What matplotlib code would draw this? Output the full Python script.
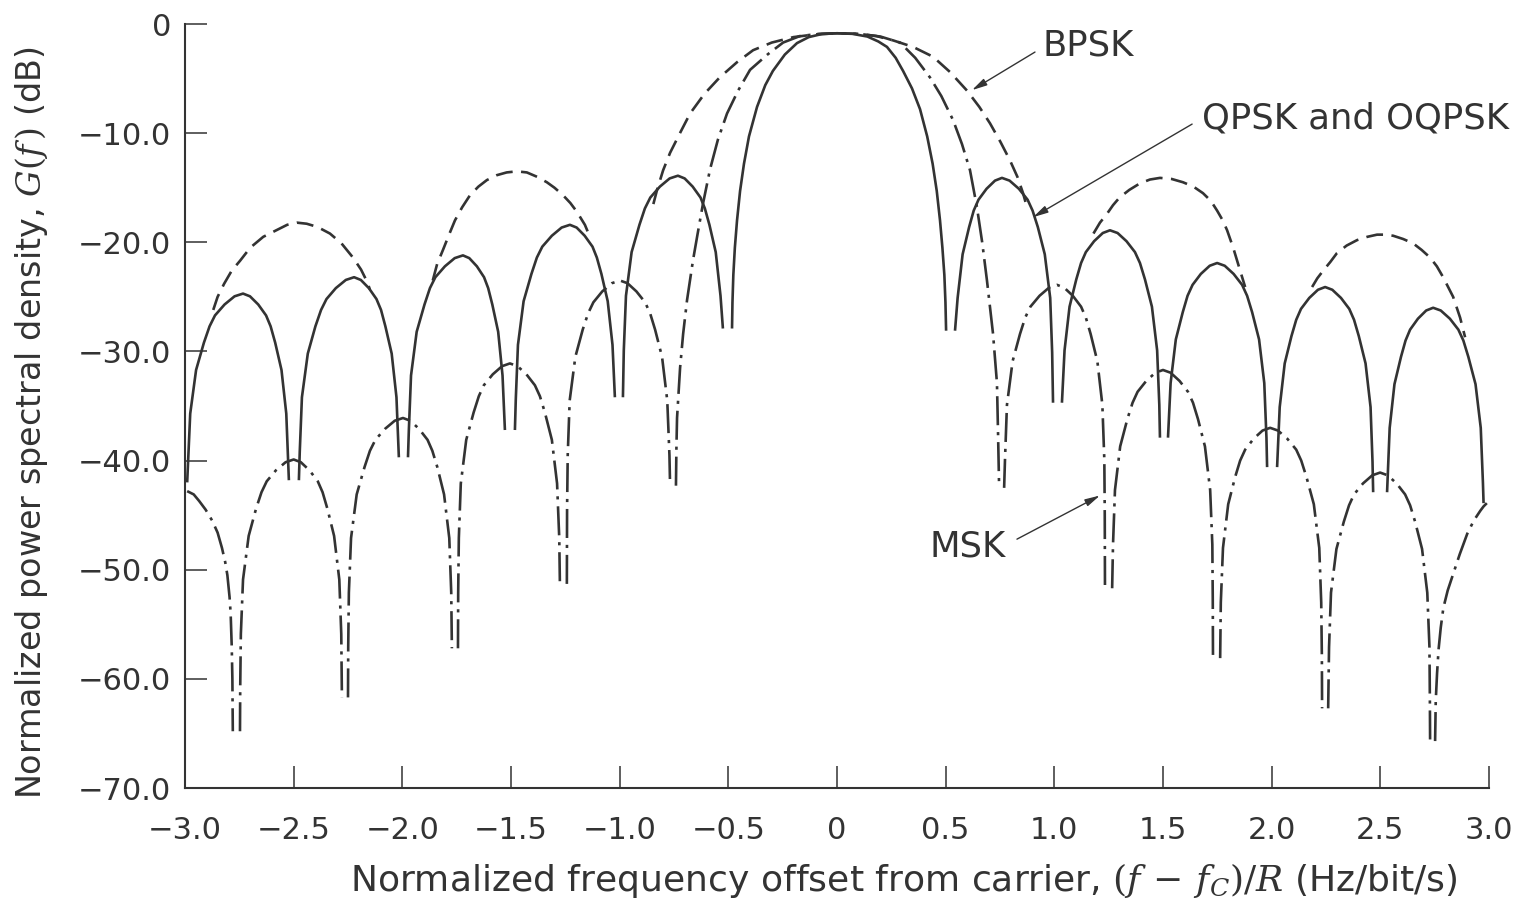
import matplotlib
matplotlib.use("Agg")
import matplotlib.pyplot as plt

plt.rcParams['font.family'] = ['DejaVu Sans']
plt.rcParams['mathtext.fontset'] = 'dejavuserif'

INK = '#333333'

# ---------------- data ----------------
# QPSK / OQPSK (solid), one list per lobe
qpsk_x = [
    [-2.99, -2.976, -2.949, -2.913, -2.887, -2.862, -2.818, -2.772, -2.733, -2.701, -2.663, -2.627, -2.606, -2.585, -2.556, -2.534, -2.522],
    [-2.476, -2.472, -2.462, -2.435, -2.400, -2.374, -2.349, -2.306, -2.260, -2.222, -2.191, -2.154, -2.119, -2.098, -2.078, -2.049, -2.027, -2.016],
    [-1.974, -1.970, -1.960, -1.934, -1.898, -1.873, -1.848, -1.804, -1.759, -1.721, -1.692, -1.657, -1.624, -1.605, -1.586, -1.559, -1.539, -1.528],
    [-1.482, -1.478, -1.468, -1.442, -1.406, -1.381, -1.356, -1.312, -1.267, -1.229, -1.198, -1.161, -1.125, -1.105, -1.084, -1.055, -1.033, -1.022],
    [-0.985, -0.981, -0.971, -0.945, -0.909, -0.884, -0.859, -0.815, -0.770, -0.732, -0.701, -0.664, -0.628, -0.608, -0.587, -0.558, -0.536, -0.525],
    [-0.483, -0.481, -0.477, -0.470, -0.460, -0.446, -0.428, -0.405, -0.368, -0.33, -0.295, -0.24, -0.184, -0.13, -0.07, 0.0, 0.07, 0.14, 0.19, 0.23, 0.27, 0.304, 0.345, 0.382, 0.415, 0.44, 0.459, 0.474, 0.485, 0.494, 0.499, 0.502],
    [0.543, 0.555, 0.578, 0.608, 0.629, 0.651, 0.688, 0.727, 0.759, 0.794, 0.837, 0.877, 0.900, 0.924, 0.956, 0.981, 0.990, 0.994],
    [1.035, 1.047, 1.070, 1.101, 1.123, 1.145, 1.183, 1.223, 1.256, 1.291, 1.332, 1.371, 1.394, 1.417, 1.449, 1.473, 1.483, 1.486],
    [1.523, 1.535, 1.559, 1.591, 1.613, 1.636, 1.674, 1.715, 1.749, 1.784, 1.825, 1.864, 1.887, 1.910, 1.942, 1.966, 1.976, 1.979],
    [2.025, 2.037, 2.060, 2.091, 2.113, 2.135, 2.173, 2.213, 2.246, 2.279, 2.319, 2.357, 2.379, 2.401, 2.432, 2.455, 2.464, 2.467],
    [2.531, 2.543, 2.565, 2.595, 2.616, 2.637, 2.673, 2.711, 2.743, 2.778, 2.820, 2.859, 2.882, 2.905, 2.938, 2.962, 2.972, 2.975],
]
qpsk_y = [
    [-42.0, -35.7, -31.7, -29.2, -27.7, -26.7, -25.7, -24.95, -24.7, -24.95, -25.7, -26.7, -27.7, -29.2, -31.7, -35.7, -41.8],
    [-41.8, -39.2, -34.2, -30.2, -27.7, -26.2, -25.2, -24.2, -23.45, -23.2, -23.45, -24.2, -25.2, -26.2, -27.7, -30.2, -34.2, -39.7],
    [-39.7, -37.2, -32.2, -28.2, -25.7, -24.2, -23.2, -22.2, -21.45, -21.2, -21.45, -22.2, -23.2, -24.2, -25.7, -28.2, -32.2, -37.2],
    [-37.2, -34.4, -29.4, -25.4, -22.9, -21.4, -20.4, -19.4, -18.65, -18.4, -18.65, -19.4, -20.4, -21.4, -22.9, -25.4, -29.4, -34.2],
    [-34.2, -29.9, -24.9, -20.9, -18.4, -16.9, -15.9, -14.9, -14.15, -13.9, -14.15, -14.9, -15.9, -16.9, -18.4, -20.9, -24.9, -27.9],
    [-27.9, -25.5, -23.0, -20.5, -18.0, -15.3, -12.8, -10.3, -7.6, -5.6, -4.3, -2.8, -1.75, -1.2, -0.92, -0.85, -0.9, -1.15, -1.6, -2.1, -3.1, -4.3, -5.9, -7.8, -10.3, -12.8, -15.3, -18.0, -20.5, -23.0, -25.5, -28.1],
    [-28.1, -25.1, -21.1, -18.6, -17.1, -16.1, -15.1, -14.35, -14.1, -14.35, -15.1, -16.1, -17.1, -18.6, -21.1, -25.1, -30.1, -34.7],
    [-34.7, -29.9, -25.9, -23.4, -21.9, -20.9, -19.9, -19.15, -18.9, -19.15, -19.9, -20.9, -21.9, -23.4, -25.9, -29.9, -34.9, -37.9],
    [-37.9, -32.9, -28.9, -26.4, -24.9, -23.9, -22.9, -22.15, -21.9, -22.15, -22.9, -23.9, -24.9, -26.4, -28.9, -32.9, -37.9, -40.6],
    [-40.6, -35.1, -31.1, -28.6, -27.1, -26.1, -25.1, -24.35, -24.1, -24.35, -25.1, -26.1, -27.1, -28.6, -31.1, -35.1, -40.1, -42.9],
    [-42.9, -37.0, -33.0, -30.5, -29.0, -28.0, -27.0, -26.25, -26.0, -26.25, -27.0, -28.0, -29.0, -30.5, -33.0, -37.0, -42.0, -43.9],
]

# MSK (dash-dot)
msk_x = [
    [-2.99, -2.96, -2.935, -2.905, -2.875, -2.85, -2.83, -2.815, -2.805, -2.795, -2.79, -2.785, -2.782, -2.78],
    [-2.747, -2.746, -2.743, -2.733, -2.707, -2.673, -2.648, -2.624, -2.582, -2.537, -2.50, -2.467, -2.427, -2.389, -2.367, -2.345, -2.314, -2.29, -2.281, -2.278],
    [-2.25, -2.249, -2.246, -2.236, -2.210, -2.174, -2.149, -2.124, -2.080, -2.035, -1.997, -1.963, -1.923, -1.884, -1.862, -1.839, -1.808, -1.784, -1.775, -1.772],
    [-1.744, -1.743, -1.740, -1.731, -1.706, -1.672, -1.648, -1.625, -1.584, -1.541, -1.505, -1.470, -1.429, -1.390, -1.367, -1.344, -1.312, -1.288, -1.278, -1.275],
    [-1.243, -1.242, -1.239, -1.230, -1.204, -1.170, -1.145, -1.121, -1.080, -1.036, -0.999, -0.964, -0.923, -0.883, -0.860, -0.837, -0.805, -0.781, -0.771, -0.768],
    [-0.741, -0.739, -0.736, -0.722, -0.708, -0.69, -0.663, -0.642, -0.617, -0.584, -0.548, -0.506, -0.455, -0.40, -0.32, -0.248, -0.17, -0.08, 0.0, 0.1, 0.2, 0.29, 0.36, 0.428, 0.48, 0.534, 0.575, 0.612, 0.644, 0.668, 0.69, 0.718, 0.736, 0.741, 0.746],
    [0.769, 0.773, 0.782, 0.808, 0.842, 0.866, 0.890, 0.932, 0.976, 1.012, 1.045, 1.085, 1.123, 1.145, 1.167, 1.198, 1.221, 1.230, 1.232, 1.233],
    [1.266, 1.270, 1.279, 1.303, 1.336, 1.360, 1.383, 1.423, 1.465, 1.50, 1.535, 1.576, 1.615, 1.638, 1.661, 1.693, 1.717, 1.727, 1.729, 1.730],
    [1.763, 1.766, 1.776, 1.800, 1.832, 1.855, 1.878, 1.917, 1.958, 1.993, 2.029, 2.072, 2.113, 2.136, 2.160, 2.194, 2.219, 2.228, 2.231, 2.232],
    [2.26, 2.264, 2.273, 2.298, 2.332, 2.356, 2.379, 2.420, 2.463, 2.499, 2.534, 2.575, 2.614, 2.637, 2.660, 2.692, 2.716, 2.726, 2.728, 2.729],
    [2.752, 2.755, 2.761, 2.768, 2.778, 2.79, 2.81, 2.835, 2.865, 2.90, 2.93, 2.96, 2.975, 2.99],
]
msk_y = [
    [-42.8, -43.1, -43.7, -44.5, -45.5, -46.6, -48.0, -49.3, -50.5, -52.5, -54.0, -57.0, -60.0, -64.8],
    [-64.8, -60.9, -55.9, -50.9, -46.9, -44.4, -42.9, -41.9, -40.9, -40.15, -39.9, -40.15, -40.9, -41.9, -42.9, -44.4, -46.9, -50.9, -55.9, -61.7],
    [-61.7, -57.1, -52.1, -47.1, -43.1, -40.6, -39.1, -38.1, -37.1, -36.35, -36.1, -36.35, -37.1, -38.1, -39.1, -40.6, -43.1, -47.1, -52.1, -57.2],
    [-57.2, -52.1, -47.1, -42.1, -38.1, -35.6, -34.1, -33.1, -32.1, -31.35, -31.1, -31.35, -32.1, -33.1, -34.1, -35.6, -38.1, -42.1, -47.1, -51.3],
    [-51.3, -44.5, -39.5, -34.5, -30.5, -28.0, -26.5, -25.5, -24.5, -23.75, -23.5, -23.75, -24.5, -25.5, -26.5, -28.0, -30.5, -34.5, -39.5, -42.3],
    [-42.3, -39.0, -36.1, -31.5, -28.4, -25.3, -21.7, -19.3, -16.5, -13.3, -10.6, -8.2, -6.1, -4.2, -2.8, -1.7, -1.1, -0.9, -0.85, -0.9, -1.15, -1.7, -3.1, -4.9, -6.6, -8.8, -11.0, -13.4, -16.8, -20.0, -23.5, -28.4, -32.9, -37.5, -42.5],
    [-42.5, -39.9, -34.9, -30.9, -28.4, -26.9, -25.9, -24.9, -24.15, -23.9, -24.15, -24.9, -25.9, -26.9, -28.4, -30.9, -34.9, -39.9, -44.9, -51.7],
    [-51.7, -47.7, -42.7, -38.7, -36.2, -34.7, -33.7, -32.7, -31.95, -31.7, -31.95, -32.7, -33.7, -34.7, -36.2, -38.7, -42.7, -47.7, -52.7, -58.1],
    [-58.1, -53.0, -48.0, -44.0, -41.5, -40.0, -39.0, -38.0, -37.25, -37.0, -37.25, -38.0, -39.0, -40.0, -41.5, -44.0, -48.0, -53.0, -58.0, -62.7],
    [-62.7, -57.1, -52.1, -48.1, -45.6, -44.1, -43.1, -42.1, -41.35, -41.1, -41.35, -42.1, -43.1, -44.1, -45.6, -48.1, -52.1, -57.1, -62.1, -65.7],
    [-65.7, -62.0, -59.5, -57.3, -55.3, -53.5, -51.9, -50.4, -48.6, -46.7, -45.5, -44.6, -44.2, -43.9],
]

# BPSK (dashed) - the visible upper parts of its lobes
bpsk_x = [
    [-2.87, -2.85, -2.82, -2.785, -2.747, -2.70, -2.64, -2.58, -2.53, -2.485, -2.44, -2.39, -2.333, -2.28, -2.227, -2.19, -2.16, -2.15],
    [-1.86, -1.84, -1.813, -1.785, -1.758, -1.725, -1.689, -1.65, -1.611, -1.565, -1.52, -1.473, -1.427, -1.38, -1.335, -1.30, -1.26, -1.227, -1.197, -1.16, -1.137],
    [-0.845, -0.828, -0.800, -0.768, -0.72, -0.676, -0.61, -0.54, -0.46, -0.386, -0.3, -0.2, -0.1, 0.0, 0.1, 0.18, 0.258, 0.35, 0.442, 0.52, 0.598, 0.655, 0.704, 0.752, 0.796, 0.83, 0.856, 0.87],
    [1.18, 1.21, 1.242, 1.27, 1.30, 1.345, 1.394, 1.44, 1.486, 1.54, 1.592, 1.64, 1.684, 1.72, 1.749, 1.775, 1.795, 1.823, 1.855, 1.878],
    [2.186, 2.21, 2.237, 2.27, 2.30, 2.345, 2.393, 2.44, 2.485, 2.52, 2.559, 2.605, 2.651, 2.69, 2.729, 2.76, 2.789, 2.835, 2.867, 2.89],
]
bpsk_y = [
    [-26.2, -25.0, -23.8, -22.6, -21.7, -20.5, -19.5, -18.9, -18.4, -18.2, -18.3, -18.6, -19.2, -20.1, -21.4, -22.5, -23.7, -24.3],
    [-23.5, -22.0, -20.7, -19.3, -18.0, -16.8, -15.7, -14.9, -14.3, -13.85, -13.6, -13.5, -13.6, -14.0, -14.5, -15.0, -15.7, -16.4, -17.2, -18.4, -19.5],
    [-16.5, -15.2, -13.4, -11.8, -9.9, -8.2, -6.4, -4.9, -3.5, -2.4, -1.7, -1.2, -0.95, -0.85, -0.9, -1.1, -1.5, -2.1, -3.0, -4.4, -6.1, -7.6, -9.1, -10.8, -12.5, -14.0, -15.5, -16.5],
    [-19.2, -18.2, -17.4, -16.6, -15.9, -15.2, -14.6, -14.25, -14.1, -14.2, -14.5, -14.9, -15.5, -16.2, -17.1, -18.0, -18.9, -20.5, -22.6, -24.1],
    [-24.1, -23.3, -22.6, -21.8, -21.0, -20.3, -19.8, -19.5, -19.3, -19.3, -19.4, -19.7, -20.1, -20.7, -21.4, -22.2, -23.2, -25.0, -26.9, -28.7],
]

x_ticks = [-3.0, -2.5, -2.0, -1.5, -1.0, -0.5, 0.0, 0.5, 1.0, 1.5, 2.0, 2.5, 3.0]
x_tick_labels = ['\u22123.0', '\u22122.5', '\u22122.0', '\u22121.5', '\u22121.0', '\u22120.5', '0',
                 '0.5', '1.0', '1.5', '2.0', '2.5', '3.0']
y_ticks = [0, -10, -20, -30, -40, -50, -60, -70]
y_tick_labels = ['0', '\u221210.0', '\u221220.0', '\u221230.0', '\u221240.0', '\u221250.0', '\u221260.0', '\u221270.0']

# ---------------- figure ----------------
W, H = 1518, 909
fig = plt.figure(figsize=(W / 100, H / 100), dpi=100)
ax = fig.add_axes([185 / W, 1 - 788 / H, (1489 - 185) / W, (788 - 24) / H])
ax.set_xlim(-3, 3)
ax.set_ylim(-70, 0)

LW = 1.9
for xs, ys in zip(qpsk_x, qpsk_y):
    ax.plot(xs, ys, color=INK, lw=LW, solid_capstyle='butt', solid_joinstyle='round', clip_on=False)
for xs, ys in zip(msk_x, msk_y):
    ax.plot(xs, ys, color=INK, lw=LW, linestyle=(0, (11, 2.6, 1.2, 2.6)),
            dash_capstyle='butt', clip_on=False)
for xs, ys in zip(bpsk_x, bpsk_y):
    ax.plot(xs, ys, color=INK, lw=LW, linestyle=(0, (6.4, 3.2)),
            dash_capstyle='butt', clip_on=False)

for side in ('top', 'right'):
    ax.spines[side].set_visible(False)
for side in ('left', 'bottom'):
    ax.spines[side].set_color(INK)
    ax.spines[side].set_linewidth(1.5)

ax.set_xticks(x_ticks)
ax.set_xticklabels(x_tick_labels)
ax.set_yticks(y_ticks)
ax.set_yticklabels(y_tick_labels)
ax.tick_params(axis='both', direction='in', length=16, width=1.1, color=INK,
               labelsize=22, labelcolor=INK)
ax.tick_params(axis='y', pad=10)
ax.tick_params(axis='x', pad=20)

fig.text(32 / W, 1 - 423 / H,
         'Normalized power spectral density, $G(f\\,)$ (dB)',
         rotation=90, ha='center', va='center', fontsize=24, color=INK)
fig.text(904 / W, 1 - 881 / H,
         'Normalized frequency offset from carrier, $(f\\,-\\,f_C)/R$ (Hz/bit/s)',
         ha='center', va='center', fontsize=26, color=INK)

arrow = dict(arrowstyle='-|>,head_length=0.9,head_width=0.22', color=INK, lw=1.0,
             shrinkA=0, shrinkB=0)
ax.annotate('', xy=(0.621, -6.06), xytext=(0.911, -2.57), arrowprops=arrow)
ax.text(1.155, -1.93, 'BPSK', ha='center', va='center', fontsize=25.5, color=INK)
ax.annotate('', xy=(0.902, -17.7), xytext=(1.634, -9.17), arrowprops=arrow)
ax.text(2.384, -8.62, 'QPSK and OQPSK', ha='center', va='center', fontsize=25.5, color=INK)
ax.annotate('', xy=(1.21, -43.2), xytext=(0.828, -47.2), arrowprops=arrow)
ax.text(0.603, -47.9, 'MSK', ha='center', va='center', fontsize=25.5, color=INK)

fig.savefig('out.png', dpi=100, facecolor='white')
